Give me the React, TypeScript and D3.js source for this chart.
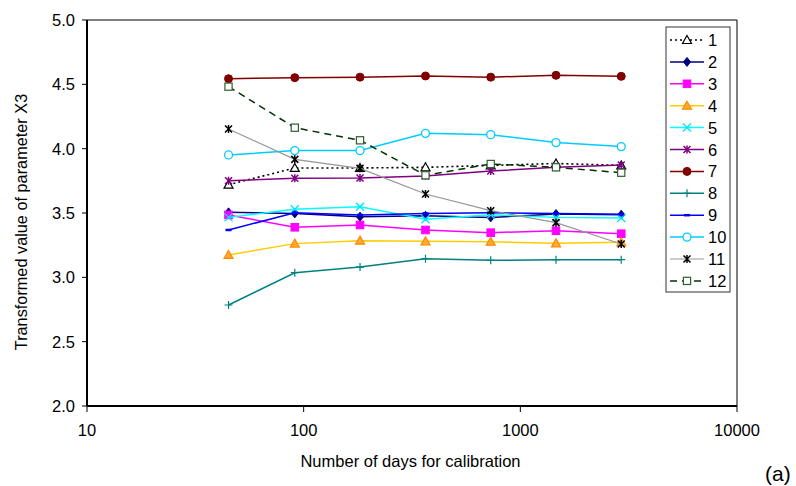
import React from "react";
import * as d3 from "d3";

const days = [45, 91, 182, 365, 730, 1461, 2922];
const s1 = [3.72, 3.85, 3.85, 3.855, 3.87, 3.885, 3.87];
const s2 = [3.505, 3.497, 3.471, 3.479, 3.466, 3.492, 3.487];
const s3 = [3.485, 3.389, 3.407, 3.368, 3.347, 3.362, 3.339];
const s4 = [3.174, 3.262, 3.285, 3.28, 3.277, 3.264, 3.272];
const s5 = [3.466, 3.529, 3.549, 3.451, 3.487, 3.466, 3.461];
const s6 = [3.751, 3.77, 3.772, 3.788, 3.826, 3.855, 3.873];
const s7 = [4.544, 4.552, 4.556, 4.565, 4.556, 4.57, 4.562];
const s8 = [2.785, 3.036, 3.08, 3.145, 3.132, 3.137, 3.137];
const s9 = [3.368, 3.502, 3.484, 3.497, 3.502, 3.497, 3.49];
const s10 = [3.951, 3.985, 3.985, 4.119, 4.109, 4.047, 4.016];
const s11 = [4.153, 3.917, 3.847, 3.648, 3.518, 3.425, 3.259];
const s12 = [4.482, 4.163, 4.065, 3.793, 3.881, 3.855, 3.813];

const seriesNames = ["1", "2", "3", "4", "5", "6", "7", "8", "9", "10", "11", "12"];
const seriesValues = [s1, s2, s3, s4, s5, s6, s7, s8, s9, s10, s11, s12];
const xTicks = [10, 100, 1000, 10000];
const yTicks = [2.0, 2.5, 3.0, 3.5, 4.0, 4.5, 5.0];

type Style = { stroke: string; dash?: string; width: number; marker: string; mFill: string; mStroke: string };
const styles: Style[] = [
  { stroke: "#000000", dash: "2,3", width: 1.6, marker: "triangle", mFill: "#ffffff", mStroke: "#000000" },
  { stroke: "#000080", width: 1.5, marker: "diamond", mFill: "#000080", mStroke: "#000080" },
  { stroke: "#ff00ff", width: 1.5, marker: "square", mFill: "#ff00ff", mStroke: "#ff00ff" },
  { stroke: "#ffcc00", width: 1.5, marker: "triangle", mFill: "#ffaa33", mStroke: "#ff8800" },
  { stroke: "#00ffff", width: 1.5, marker: "x", mFill: "none", mStroke: "#00e5ff" },
  { stroke: "#800080", width: 1.5, marker: "star", mFill: "none", mStroke: "#800080" },
  { stroke: "#800000", width: 1.5, marker: "circle", mFill: "#800000", mStroke: "#800000" },
  { stroke: "#008080", width: 1.5, marker: "plus", mFill: "none", mStroke: "#008080" },
  { stroke: "#0000ff", width: 1.5, marker: "dash", mFill: "none", mStroke: "#0000ff" },
  { stroke: "#00ccff", width: 1.5, marker: "ocircle", mFill: "#ffffff", mStroke: "#00ccff" },
  { stroke: "#969696", width: 1.2, marker: "star", mFill: "none", mStroke: "#000000" },
  { stroke: "#003300", dash: "7,5", width: 1.5, marker: "osquare", mFill: "#ffffff", mStroke: "#2f5f2f" },
];

function Marker({ type, x, y, fill, stroke }: { type: string; x: number; y: number; fill: string; stroke: string }) {
  const t = `translate(${x},${y})`;
  switch (type) {
    case "triangle":
      return <path transform={t} d="M0,-4.5L4.5,3.5L-4.5,3.5Z" fill={fill} stroke={stroke} strokeWidth={1.2} />;
    case "diamond":
      return <path transform={t} d="M0,-4.5L3.5,0L0,4.5L-3.5,0Z" fill={fill} stroke={stroke} strokeWidth={1} />;
    case "square":
      return <rect x={x - 3.8} y={y - 3.8} width={7.6} height={7.6} fill={fill} stroke={stroke} />;
    case "osquare":
      return <rect x={x - 3.6} y={y - 3.6} width={7.2} height={7.2} fill={fill} stroke={stroke} strokeWidth={1.2} />;
    case "circle":
      return <circle cx={x} cy={y} r={4} fill={fill} stroke={stroke} />;
    case "ocircle":
      return <circle cx={x} cy={y} r={4} fill={fill} stroke={stroke} strokeWidth={1.3} />;
    case "x":
      return <path transform={t} d="M-4,-4L4,4M-4,4L4,-4" stroke={stroke} strokeWidth={1.4} fill="none" />;
    case "star":
      return <path transform={t} d="M-3.5,-3.5L3.5,3.5M-3.5,3.5L3.5,-3.5M0,-4L0,4" stroke={stroke} strokeWidth={1.5} fill="none" />;
    case "plus":
      return <path transform={t} d="M-4,0L4,0M0,-4L0,4" stroke={stroke} strokeWidth={1.2} fill="none" />;
    case "dash":
      return <path transform={t} d="M-3,0L3,0" stroke={stroke} strokeWidth={2.5} fill="none" />;
    default:
      return null;
  }
}

export default function App() {
  const W = 796, H = 486;
  const x = d3.scaleLog().domain([10, 10000]).range([87, 737]);
  const y = d3.scaleLinear().domain([2, 5]).range([406, 20]);
  const font = "'Liberation Sans', Arial, sans-serif";

  const line = d3.line<number>().x((_, i) => x(days[i])).y((v) => y(v));

  const legX = 666, legY = 27, legW = 64, legH = 265;
  const rowH = 21.9;

  return (
    <svg width={W} height={H} style={{ position: "absolute", left: 0, top: 0, background: "#fff" }} fontFamily={font}>
      {/* frame top/right */}
      <path d={`M${x(10)},${y(5)}H${x(10000)}V${y(2)}`} fill="none" stroke="#000" strokeWidth={1} />
      {/* y axis */}
      <line x1={x(10)} x2={x(10)} y1={y(5)} y2={y(2)} stroke="#000" strokeWidth={2} />
      {yTicks.map((t) => (
        <g key={t}>
          <line x1={x(10) - 5} x2={x(10)} y1={y(t)} y2={y(t)} stroke="#000" strokeWidth={1} />
          <text x={75} y={y(t) + 6} textAnchor="end" fontSize={16.5} fill="#000">
            {t.toFixed(1)}
          </text>
        </g>
      ))}
      {/* x axis */}
      <line x1={x(10)} x2={x(10000)} y1={y(2)} y2={y(2)} stroke="#000" strokeWidth={2} />
      {xTicks.map((t) => (
        <g key={t}>
          <line x1={x(t)} x2={x(t)} y1={y(2)} y2={y(2) + 6} stroke="#000" strokeWidth={1} />
          <text x={x(t)} y={436} textAnchor="middle" fontSize={16.5} fill="#000">
            {t}
          </text>
        </g>
      ))}
      <text x={410.5} y={467} textAnchor="middle" fontSize={16.5} fill="#000">
        Number of days for calibration
      </text>
      <text transform={`translate(27,222) rotate(-90)`} textAnchor="middle" fontSize={16.3} fill="#000">
        Transformed value of parameter X3
      </text>
      <text x={765} y={481} fontSize={21} fill="#000">
        (a)
      </text>

      {/* series */}
      {seriesValues.map((vals, si) => {
        const st = styles[si];
        return (
          <g key={si}>
            <path d={line(vals) || ""} fill="none" stroke={st.stroke} strokeWidth={st.width} strokeDasharray={st.dash} />
            {vals.map((v, i) => (
              <Marker key={i} type={st.marker} x={x(days[i])} y={y(v)} fill={st.mFill} stroke={st.mStroke} />
            ))}
          </g>
        );
      })}

      {/* legend */}
      <rect x={legX} y={legY} width={legW} height={legH} fill="#fff" stroke="#333" strokeWidth={1} />
      {seriesNames.map((n, i) => {
        const st = styles[i];
        const cy = 40 + i * rowH;
        return (
          <g key={n}>
            <line x1={670} x2={704} y1={cy} y2={cy} stroke={st.stroke} strokeWidth={st.width} strokeDasharray={st.dash} />
            <Marker type={st.marker} x={687} y={cy} fill={st.mFill} stroke={st.mStroke} />
            <text x={708} y={cy + 6} fontSize={16.5} fill="#000">
              {n}
            </text>
          </g>
        );
      })}
    </svg>
  );
}
